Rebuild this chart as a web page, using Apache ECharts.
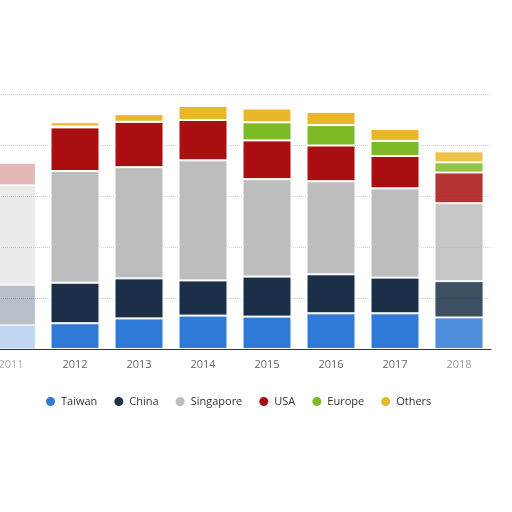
<!DOCTYPE html>
<html>
<head>
<meta charset="utf-8">
<script src="https://cdn.jsdelivr.net/npm/echarts@6/dist/echarts.min.js"></script>
<style>
  html, body { margin: 0; padding: 0; background: #fff; }
  #main { width: 512px; height: 512px; }
</style>
</head>
<body>
<div id="main"></div>
<script>
// years on the x axis
const years = ['2011', '2012', '2013', '2014', '2015', '2016', '2017', '2018'];

// stacked values per region
const taiwan    = [9.4, 10.1, 12.0, 13.1, 12.7, 14.0, 14.0, 12.4];
const china     = [15.7, 15.9, 15.7, 13.8, 15.7, 15.3, 14.0, 14.2];
const singapore = [39.2, 43.8, 43.6, 47.1, 38.2, 36.5, 35.0, 30.6];
const usa       = [8.6, 17.1, 17.8, 15.8, 15.2, 14.0, 12.7, 12.0];
const europe    = [0, 0.4, 0, 0, 7.1, 8.0, 5.9, 4.0];
const others    = [0, 1.6, 3.0, 5.5, 5.4, 5.2, 4.7, 4.3];

const chart = echarts.init(document.getElementById('main'));

// 2011 is washed out in the picture, 2018 a little
function fade(arr) {
  return arr.map(function (v, i) {
    if (i === 0) return { value: v, itemStyle: { opacity: 0.3 } };
    if (i === 7) return { value: v, itemStyle: { opacity: 0.85 } };
    return v;
  });
}

function mkSeries(name, data, color) {
  return {
    name: name,
    type: 'bar',
    stack: 'total',
    barWidth: 49,
    data: fade(data),
    itemStyle: { color: color, borderColor: '#fff', borderWidth: 1 }
  };
}

var option = {
  backgroundColor: '#fff',
  animation: false,
  color: ['#2f7ad6', '#1b3048', '#bdbdbd', '#a90f10', '#7cbb26', '#ebb72a'],
  legend: {
    bottom: 99,
    left: 39,
    icon: 'circle',
    itemWidth: 11,
    itemHeight: 11,
    itemGap: 15,
    textStyle: { color: '#333', fontSize: 11, fontFamily: 'Open Sans' },
    data: ['Taiwan', 'China', 'Singapore', 'USA', 'Europe', 'Others']
  },
  grid: {
    left: -21,
    right: 21,
    top: 94,
    bottom: 163,
    outerBoundsMode: 'none'
  },
  xAxis: {
    type: 'category',
    data: years,
    axisLine: { lineStyle: { color: '#333', width: 1 } },
    axisTick: { show: false },
    axisLabel: {
      margin: 10,
      fontSize: 11,
      fontFamily: 'Open Sans',
      color: function (v, i) {
        if (v === '2011') return '#aaa';
        if (v === '2018') return '#999';
        return '#666';
      }
    }
  },
  yAxis: {
    type: 'value',
    min: 0,
    max: 100,
    interval: 20,
    axisLabel: { show: false },
    axisLine: { show: false },
    axisTick: { show: false },
    splitLine: { lineStyle: { color: '#ccc', type: 'dotted' } }
  },
  series: [
    mkSeries('Taiwan', taiwan, '#2f7ad6'),
    mkSeries('China', china, '#1b3048'),
    mkSeries('Singapore', singapore, '#bdbdbd'),
    mkSeries('USA', usa, '#a90f10'),
    mkSeries('Europe', europe, '#7cbb26'),
    mkSeries('Others', others, '#ebb72a')
  ]
};

chart.setOption(option);
</script>
</body>
</html>
